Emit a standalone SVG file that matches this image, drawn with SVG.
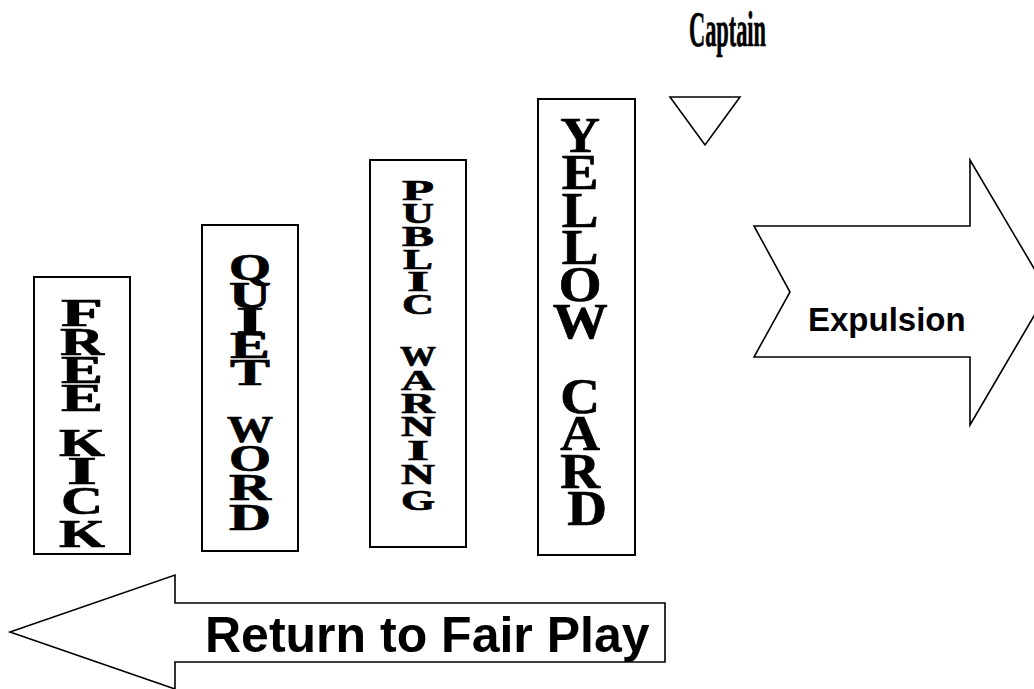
<svg xmlns="http://www.w3.org/2000/svg" width="1034" height="689" viewBox="0 0 1034 689">
  <style>
    .box { fill: #fff; stroke: #000; stroke-width: 2; }
    .shape { fill: #fff; stroke: #000; stroke-width: 1.6; stroke-linejoin: miter; }
    .stack { font-family: "Liberation Serif", "Times New Roman", serif; font-weight: bold; fill: #000; stroke: #000; stroke-width: 0.7; }
    .fk { font-size: 40px; }
    .qw { font-size: 38px; }
    .pw { font-size: 30px; }
    .label { font-family: "Liberation Sans", Arial, sans-serif; font-weight: bold; fill: #000; }
  </style>
  <rect width="1034" height="689" fill="#fff"/>

  <!-- step 1: letters stretched to an even width, centred on x=82 -->
  <g id="free-kick">
    <rect class="box" x="34" y="277" width="96" height="277"/>
    <g class="stack fk">
      <text x="61" y="326" textLength="42" lengthAdjust="spacingAndGlyphs">F</text>
      <text x="60" y="355" textLength="44" lengthAdjust="spacingAndGlyphs">R</text>
      <text x="61" y="383" textLength="42" lengthAdjust="spacingAndGlyphs">E</text>
      <text x="61" y="411" textLength="42" lengthAdjust="spacingAndGlyphs">E</text>
      <text x="59" y="456" textLength="46" lengthAdjust="spacingAndGlyphs">K</text>
      <text x="67" y="484" textLength="30" lengthAdjust="spacingAndGlyphs">I</text>
      <text x="61" y="514" textLength="42" lengthAdjust="spacingAndGlyphs">C</text>
      <text x="59" y="547" textLength="46" lengthAdjust="spacingAndGlyphs">K</text>
    </g>
  </g>

  <!-- step 2: centred on x=250 -->
  <g id="quiet-word">
    <rect class="box" x="202" y="225" width="96" height="326"/>
    <g class="stack qw">
      <text x="229" y="280" textLength="42" lengthAdjust="spacingAndGlyphs">Q</text>
      <text x="229" y="308" textLength="42" lengthAdjust="spacingAndGlyphs">U</text>
      <text x="236" y="333" textLength="28" lengthAdjust="spacingAndGlyphs">I</text>
      <text x="230" y="358" textLength="40" lengthAdjust="spacingAndGlyphs">E</text>
      <text x="230" y="385" textLength="40" lengthAdjust="spacingAndGlyphs">T</text>
      <text x="227" y="442" textLength="46" lengthAdjust="spacingAndGlyphs">W</text>
      <text x="229" y="471" textLength="42" lengthAdjust="spacingAndGlyphs">O</text>
      <text x="229" y="500" textLength="42" lengthAdjust="spacingAndGlyphs">R</text>
      <text x="229" y="530" textLength="42" lengthAdjust="spacingAndGlyphs">D</text>
    </g>
  </g>

  <!-- step 3: centred on x=418 -->
  <g id="public-warning">
    <rect class="box" x="370" y="160" width="96" height="387"/>
    <g class="stack pw">
      <text x="402" y="200" textLength="32" lengthAdjust="spacingAndGlyphs">P</text>
      <text x="402" y="223" textLength="32" lengthAdjust="spacingAndGlyphs">U</text>
      <text x="402" y="246" textLength="32" lengthAdjust="spacingAndGlyphs">B</text>
      <text x="403" y="269" textLength="30" lengthAdjust="spacingAndGlyphs">L</text>
      <text x="407" y="291" textLength="22" lengthAdjust="spacingAndGlyphs">I</text>
      <text x="402" y="314" textLength="32" lengthAdjust="spacingAndGlyphs">C</text>
      <text x="400" y="366" textLength="36" lengthAdjust="spacingAndGlyphs">W</text>
      <text x="401" y="390" textLength="34" lengthAdjust="spacingAndGlyphs">A</text>
      <text x="401" y="413" textLength="34" lengthAdjust="spacingAndGlyphs">R</text>
      <text x="401" y="436" textLength="34" lengthAdjust="spacingAndGlyphs">N</text>
      <text x="407" y="460" textLength="22" lengthAdjust="spacingAndGlyphs">I</text>
      <text x="401" y="484" textLength="34" lengthAdjust="spacingAndGlyphs">N</text>
      <text x="401" y="510" textLength="34" lengthAdjust="spacingAndGlyphs">G</text>
    </g>
  </g>

  <!-- step 4 -->
  <g id="yellow-card">
    <rect class="box" x="538" y="99" width="97" height="456"/>
    <text class="stack" font-size="50" text-anchor="middle" transform="translate(587,0) scale(1.1,1)">
      <tspan x="0" y="152">Y</tspan>
      <tspan x="0" y="189">E</tspan>
      <tspan x="0" y="227">L</tspan>
      <tspan x="0" y="264">L</tspan>
      <tspan x="0" y="301">O</tspan>
      <tspan x="0" y="338">W</tspan>
      <tspan x="0" y="413">C</tspan>
      <tspan x="0" y="450">A</tspan>
      <tspan x="0" y="488">R</tspan>
      <tspan x="0" y="525">D</tspan>
    </text>
  </g>

  <!-- captain marker -->
  <g id="captain">
    <text class="stack" font-size="50" x="689" y="46" textLength="77" lengthAdjust="spacingAndGlyphs">Captain</text>
    <polygon class="shape" points="670,97 740,97 705,145"/>
  </g>

  <!-- outgoing arrow -->
  <g id="expulsion">
    <polygon class="shape" points="754,226 970,226 970,160 1048,292 970,425 970,357 754,357 790,292"/>
    <text class="label" font-size="33" x="808" y="331">Expulsion</text>
  </g>

  <!-- returning arrow -->
  <g id="return">
    <polygon class="shape" points="10,632 175,575 175,603 665,603 665,662 175,662 175,689"/>
    <text class="label" font-size="50" x="205" y="652">Return to Fair Play</text>
  </g>
</svg>
